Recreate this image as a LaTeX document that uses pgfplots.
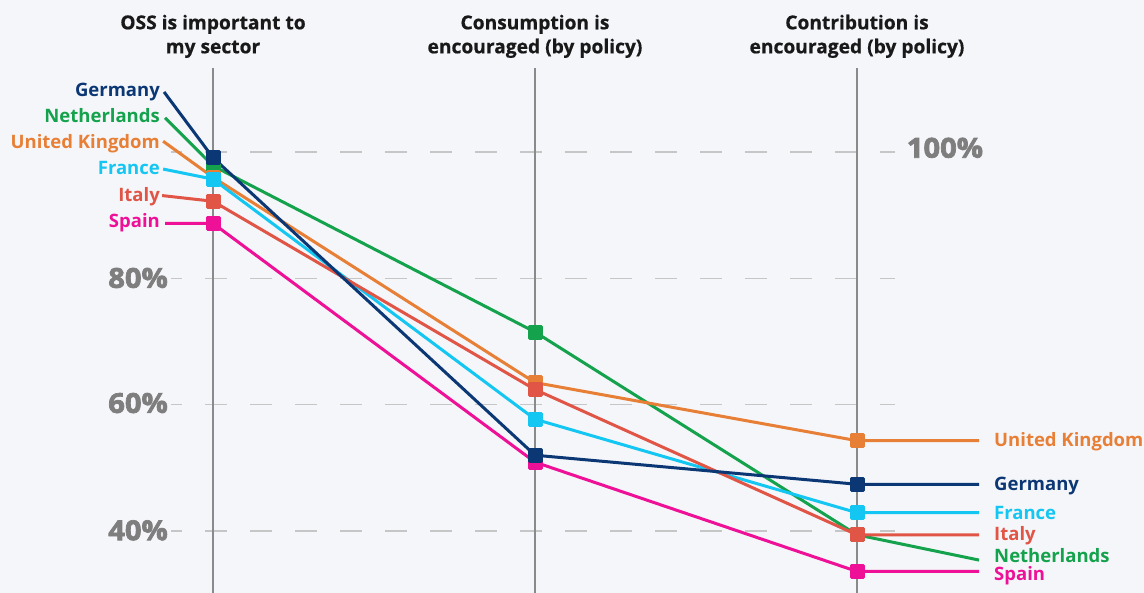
\documentclass[border=0pt]{standalone}
\usepackage{fontspec}
\setmainfont{Open Sans}
\newfontfamily\tickfont[FakeBold=2.6, FakeStretch=1.06]{Open Sans}
\newfontfamily\headfont[FakeBold=0.6]{Open Sans}
\usepackage{pgfplots}
\pgfplotsset{compat=1.18}
\definecolor{bg}{HTML}{F5F6FA}
\definecolor{cde}{HTML}{0B3774}
\definecolor{cnl}{HTML}{14A24C}
\definecolor{cuk}{HTML}{E87F36}
\definecolor{cfr}{HTML}{14C6F2}
\definecolor{cit}{HTML}{E05545}
\definecolor{ces}{HTML}{EE1096}
\definecolor{gridc}{HTML}{C6C6C6}
\definecolor{colc}{HTML}{8A8A8A}
\definecolor{tickc}{HTML}{7E7E7E}
\tikzset{
  lab/.style={font=\bfseries\fontsize{18.5}{22}\selectfont, inner sep=0pt},
  head/.style={font=\headfont\bfseries\fontsize{19.2}{24}\selectfont, text=black!90, inner sep=0pt, anchor=base},
  tickl/.style={font=\tickfont\bfseries\fontsize{27.5}{30}\selectfont, text=tickc, inner sep=0pt, anchor=base east},
  gridl/.style={gridc, line width=1.3pt, dash pattern=on 22pt off 23pt, dash phase=11pt},
}
\begin{document}
\begin{tikzpicture}
\begin{axis}[
  scale only axis, width=1144pt, height=593pt,
  xmin=-0.6615, xmax=2.8913, ymin=30.19, ymax=124.06,
  axis line style={draw=none}, xtick=\empty, ytick=\empty,
  axis background/.style={fill=bg}, clip=false,
  every axis plot/.append style={line width=3pt, line join=round},
  ser/.style={mark=square*, mark indices={2,3,4}, mark size=6pt,
     mark options={draw=black!75, line width=0.9pt, solid}},
]
% grid lines
\draw[gridl] (axis cs:-0.1304,100) -- (axis cs:2.118,100);
\draw[gridl] (axis cs:-0.1304,80) -- (axis cs:2.118,80);
\draw[gridl] (axis cs:-0.1304,60) -- (axis cs:2.118,60);
\draw[gridl] (axis cs:-0.1304,40) -- (axis cs:2.118,40);
% column lines
\draw[colc, line width=2pt] (axis cs:0,113.3) -- (axis cs:0,30.19);
\draw[colc, line width=2pt] (axis cs:1,113.3) -- (axis cs:1,30.19);
\draw[colc, line width=2pt] (axis cs:2,113.3) -- (axis cs:2,30.19);
% tick labels
\node[tickl] at (axis cs:2.392,99.1) {100\%};
\node[tickl] at (axis cs:-0.1397,78.5) {80\%};
\node[tickl] at (axis cs:-0.1397,58.7) {60\%};
\node[tickl] at (axis cs:-0.1397,38.55) {40\%};
% headings
\node[head] at (axis cs:0,119.42) {OSS is important to};
\node[head] at (axis cs:0,115.62) {my sector};
\node[head] at (axis cs:1,119.42) {Consumption is};
\node[head] at (axis cs:1,115.62) {encouraged (by policy)};
\node[head] at (axis cs:2,119.42) {Contribution is};
\node[head] at (axis cs:2,115.62) {encouraged (by policy)};
% series
\addplot[cnl, ser, mark options={fill=cnl}] coordinates {(-0.149,105.4)(0,97.8)(1,71.5)(2,39.4)(2.379,35.4)};
\addplot[cuk, ser, mark options={fill=cuk}] coordinates {(-0.155,101.7)(0,96.0)(1,63.5)(2,54.3)(2.379,54.3)};
\addplot[ces, ser, mark options={fill=ces}] coordinates {(-0.149,88.7)(0,88.7)(1,50.9)(2,33.6)(2.379,33.6)};
\addplot[cfr, ser, mark options={fill=cfr}] coordinates {(-0.155,97.3)(0,95.7)(1,57.7)(2,42.9)(2.379,42.9)};
\addplot[cit, ser, mark options={fill=cit}] coordinates {(-0.158,93.1)(0,92.2)(1,62.4)(2,39.4)(2.379,39.4)};
\addplot[cde, ser, mark options={fill=cde}] coordinates {(-0.152,109.5)(0,99.1)(1,52.0)(2,47.4)(2.379,47.4)};
% left labels
\node[lab, text=cde, anchor=base east] at (axis cs:-0.1646,108.75) {Germany};
\node[lab, text=cnl, anchor=base east] at (axis cs:-0.1646,104.70) {Netherlands};
\node[lab, text=cuk, anchor=base east] at (axis cs:-0.1646,100.59) {United Kingdom};
\node[lab, text=cfr, anchor=base east] at (axis cs:-0.1646,96.36) {France};
\node[lab, text=cit, anchor=base east] at (axis cs:-0.1646,92.13) {Italy};
\node[lab, text=ces, anchor=base east] at (axis cs:-0.1646,88.02) {Spain};
% right labels
\node[lab, text=cuk, anchor=base west] at (axis cs:2.4255,53.35) {United Kingdom};
\node[lab, text=cde, anchor=base west] at (axis cs:2.4255,46.38) {Germany};
\node[lab, text=cfr, anchor=base west] at (axis cs:2.4255,41.85) {France};
\node[lab, text=cit, anchor=base west] at (axis cs:2.4255,38.47) {Italy};
\node[lab, text=cnl, anchor=base west] at (axis cs:2.4255,34.98) {Netherlands};
\node[lab, text=ces, anchor=base west] at (axis cs:2.4255,32.1) {Spain};
\end{axis}
\pgfresetboundingbox
\useasboundingbox (current axis.south west) rectangle (current axis.north east);
\end{tikzpicture}
\end{document}
